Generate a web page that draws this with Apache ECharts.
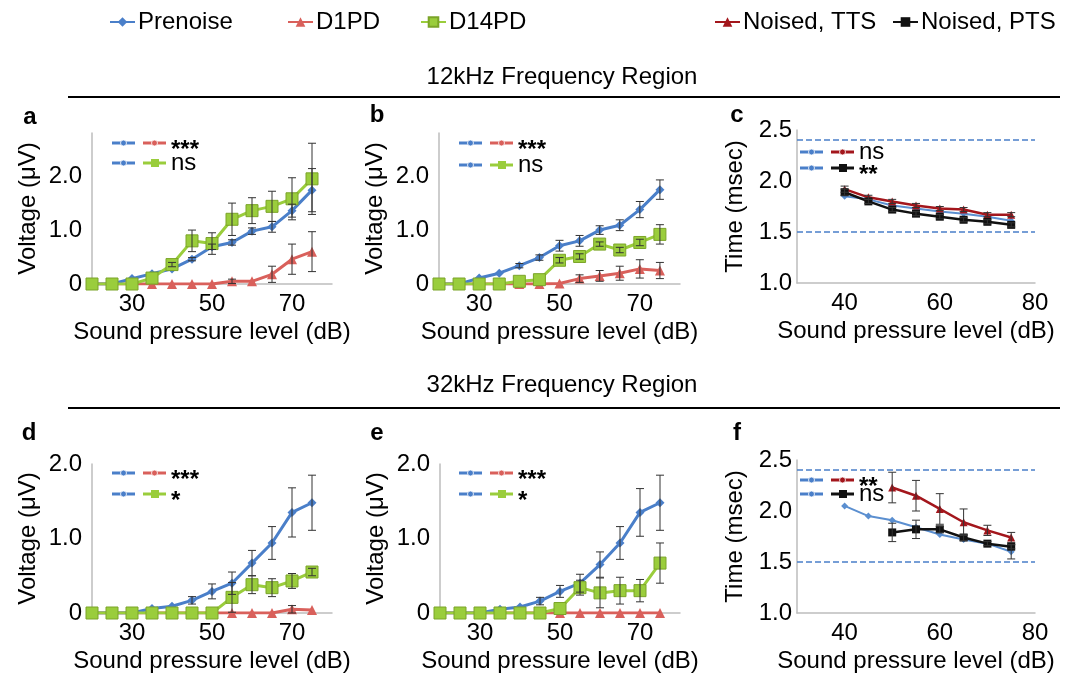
<!DOCTYPE html>
<html>
<head>
<meta charset="utf-8">
<script src="https://cdn.jsdelivr.net/npm/echarts@6/dist/echarts.min.js"></script>
<style>
  html, body { margin: 0; padding: 0; background: #fff; }
  #main { width: 1073px; height: 678px; }
</style>
</head>
<body>
<div id="main"></div>
<script>
// sound pressure levels (dB)
var spl = [20, 25, 30, 35, 40, 45, 50, 55, 60, 65, 70, 75];
var splLat = [40, 45, 50, 55, 60, 65, 70, 75];

// a: 12kHz amplitude, Prenoise vs D1PD
var aPre = [0, 0, 0.1, 0.19, 0.28, 0.46, 0.69, 0.77, 0.98, 1.06, 1.36, 1.74];
var aPreErr = [0, 0, 0, 0, 0, 0.03, 0.05, 0.05, 0.06, 0.1, 0.12, 0.4];
var aD1 = [0, 0, 0, 0, 0, 0, 0, 0.05, 0.05, 0.18, 0.46, 0.6];
var aD1Err = [0, 0, 0, 0, 0, 0, 0, 0.04, 0, 0.15, 0.28, 0.37];
var aD14 = [0, 0, 0, 0.11, 0.36, 0.8, 0.75, 1.2, 1.36, 1.44, 1.58, 1.95];
var aD14Err = [0, 0, 0, 0, 0.04, 0.2, 0.2, 0.3, 0.24, 0.28, 0.39, 0.66];

// b
var bPre = [0, 0, 0.11, 0.2, 0.34, 0.49, 0.71, 0.8, 1.0, 1.09, 1.38, 1.75];
var bPreErr = [0, 0, 0, 0, 0.04, 0.05, 0.1, 0.1, 0.08, 0.1, 0.15, 0.18];
var bD1 = [0, 0, 0, 0, 0, 0, 0.01, 0.1, 0.15, 0.2, 0.28, 0.25];
var bD1Err = [0, 0, 0, 0, 0, 0, 0, 0.07, 0.1, 0.13, 0.17, 0.15];
var bD14 = [0, 0, 0, 0, 0.05, 0.08, 0.44, 0.51, 0.74, 0.63, 0.77, 0.92];
var bD14Err = [0, 0, 0, 0, 0, 0, 0.05, 0.05, 0.04, 0.05, 0.06, 0.18];

// c: 12kHz latency
var cPre = [1.85, 1.82, 1.76, 1.73, 1.7, 1.68, 1.65, 1.61];
var cTTS = [1.92, 1.84, 1.8, 1.76, 1.73, 1.72, 1.67, 1.67];
var cTTSErr = [0.03, 0.02, 0.02, 0.02, 0.02, 0.02, 0.02, 0.02];
var cPTS = [1.89, 1.8, 1.72, 1.68, 1.65, 1.62, 1.6, 1.57];
var cPTSErr = [0.03, 0.02, 0.02, 0.02, 0.02, 0.02, 0.02, 0.02];

// d: 32kHz amplitude
var dPre = [0, 0, 0, 0.06, 0.09, 0.17, 0.29, 0.4, 0.67, 0.94, 1.35, 1.48];
var dPreErr = [0, 0, 0, 0, 0, 0.05, 0.1, 0.15, 0.17, 0.22, 0.33, 0.37];
var dD1 = [0, 0, 0, 0, 0, 0, 0, 0, 0, 0, 0.05, 0.04];
var dD1Err = [0, 0, 0, 0, 0, 0, 0, 0, 0, 0, 0.05, 0];
var dD14 = [0, 0, 0, 0, 0, 0, 0, 0.21, 0.38, 0.34, 0.43, 0.55];
var dD14Err = [0, 0, 0, 0, 0, 0, 0, 0.2, 0.12, 0.12, 0.1, 0.05];

// e
var ePre = [0, 0, 0, 0.05, 0.08, 0.16, 0.29, 0.4, 0.65, 0.94, 1.35, 1.48];
var ePreErr = [0, 0, 0, 0, 0, 0.05, 0.08, 0.12, 0.17, 0.22, 0.32, 0.37];
var eD1 = [0, 0, 0, 0, 0, 0, 0, 0, 0, 0, 0, 0];
var eD14 = [0, 0, 0, 0, 0, 0, 0.06, 0.34, 0.27, 0.3, 0.3, 0.67];
var eD14Err = [0, 0, 0, 0, 0, 0, 0, 0.1, 0.2, 0.18, 0.15, 0.27];

// f: 32kHz latency
var fPre = [2.05, 1.95, 1.91, 1.84, 1.77, 1.72, 1.68, 1.6];
var fPreErr = [0, 0, 0, 0, 0, 0, 0, 0.07];
var fTTS = [null, null, 2.23, 2.15, 2.02, 1.89, 1.81, 1.74];
var fTTSErr = [0, 0, 0.15, 0.15, 0.15, 0.13, 0.05, 0.05];
var fPTS = [null, null, 1.79, 1.82, 1.82, 1.74, 1.68, 1.65];
var fPTSErr = [0, 0, 0.09, 0.09, 0.03, 0.03, 0.02, 0.02];

// dashed reference lines on latency panels
var refLines = [1.5, 2.4];

var FONT = 'Liberation Sans, Arial, Helvetica, sans-serif';
var BLUE = '#4A7FC9', RED = '#D9605B', GREEN = '#9ACD3C', DKRED = '#A3161C', BLK = '#111111';

// grid boxes: a b c d e f
var grids = [
  {left: 92, top: 133, width: 240, height: 151},
  {left: 439, top: 133, width: 241, height: 151},
  {left: 797, top: 130, width: 238, height: 153},
  {left: 92, top: 464, width: 240, height: 149},
  {left: 440, top: 464, width: 240, height: 149},
  {left: 797, top: 460, width: 238, height: 153}
];

var axisLineStyle = {lineStyle: {color: '#bdbdbd', width: 1.5}};

function xAxisFor(i, lat) {
  var show = lat ? [40, 60, 80] : [30, 50, 70];
  return {
    type: 'value', gridIndex: i, min: lat ? 30 : 20, max: 80, interval: 10,
    axisLine: axisLineStyle, axisTick: {show: false}, splitLine: {show: false},
    axisLabel: {
      margin: 8, fontSize: 24, color: '#000', fontFamily: FONT,
      formatter: function (v) { return show.indexOf(v) >= 0 ? String(v) : ''; }
    },
    name: 'Sound pressure level (dB)', nameLocation: 'middle', nameGap: 36,
    nameTextStyle: {fontSize: 24, color: '#000', fontFamily: FONT}
  };
}

function yAxisFor(i, min, max, interval, name, gap, margin) {
  return {
    type: 'value', gridIndex: i, min: min, max: max, interval: interval,
    axisLine: {show: true, lineStyle: {color: '#bdbdbd', width: 1.5}},
    axisTick: {show: false}, splitLine: {show: false},
    axisLabel: {
      margin: margin, fontSize: 24, color: '#000', fontFamily: FONT,
      formatter: function (v) {
        if (min === 0) {
          if (v === 0) return '0';
          return Math.abs(v - Math.round(v)) < 1e-9 ? v.toFixed(1) : '';
        }
        return v.toFixed(1);
      }
    },
    name: name, nameLocation: 'middle', nameGap: gap,
    nameTextStyle: {fontSize: 24, color: '#000', fontFamily: FONT}
  };
}

function pairs(xs, ys) {
  var out = [];
  for (var i = 0; i < xs.length; i++) if (ys[i] != null) out.push([xs[i], ys[i]]);
  return out;
}

function line(name, xs, ys, gi, color, symbol, size, width, extra) {
  var s = {
    name: name, type: 'line', xAxisIndex: gi, yAxisIndex: gi,
    data: pairs(xs, ys), symbol: symbol, symbolSize: size,
    lineStyle: {color: color, width: width},
    itemStyle: {color: color},
    z: 2
  };
  if (extra) for (var k in extra) s[k] = extra[k];
  return s;
}

function errRender(params, api) {
  var x = api.value(0), y = api.value(1), e = api.value(2);
  var hi = api.coord([x, y + e]), lo = api.coord([x, y - e]);
  var w = 4;
  var st = {stroke: '#333', lineWidth: 1};
  return {type: 'group', children: [
    {type: 'line', shape: {x1: hi[0], y1: hi[1], x2: lo[0], y2: lo[1]}, style: st},
    {type: 'line', shape: {x1: hi[0] - w, y1: hi[1], x2: hi[0] + w, y2: hi[1]}, style: st},
    {type: 'line', shape: {x1: lo[0] - w, y1: lo[1], x2: lo[0] + w, y2: lo[1]}, style: st}
  ]};
}

function err(xs, ys, es, gi) {
  var d = [];
  for (var i = 0; i < xs.length; i++) if (ys[i] != null && es[i] > 0) d.push([xs[i], ys[i], es[i]]);
  return {type: 'custom', xAxisIndex: gi, yAxisIndex: gi, data: d, renderItem: errRender,
          encode: {x: 0, y: 1}, silent: true, z: 4};
}

var d14Item = {color: GREEN, borderColor: '#7BA428', borderWidth: 1};
var refMark = {
  silent: true, symbol: 'none', label: {show: false},
  lineStyle: {color: '#4A7FC9', type: 'dashed', width: 1.5},
  data: refLines.map(function (v) { return {yAxis: v}; })
};

var series = [];
// a
series.push(line('D1PD', spl, aD1, 0, RED, 'triangle', 10, 3));
series.push(line('Prenoise', spl, aPre, 0, BLUE, 'diamond', 9, 3));
series.push(line('D14PD', spl, aD14, 0, GREEN, 'rect', 12, 3, {itemStyle: d14Item}));
series.push(err(spl, aPre, aPreErr, 0), err(spl, aD1, aD1Err, 0), err(spl, aD14, aD14Err, 0));
// b
series.push(line('D1PD', spl, bD1, 1, RED, 'triangle', 10, 3));
series.push(line('Prenoise', spl, bPre, 1, BLUE, 'diamond', 9, 3));
series.push(line('D14PD', spl, bD14, 1, GREEN, 'rect', 12, 3, {itemStyle: d14Item}));
series.push(err(spl, bPre, bPreErr, 1), err(spl, bD1, bD1Err, 1), err(spl, bD14, bD14Err, 1));
// c
series.push(line('Prenoise', splLat, cPre, 2, '#5B8FD0', 'diamond', 7, 2, {markLine: refMark}));
series.push(line('Noised, TTS', splLat, cTTS, 2, DKRED, 'triangle', 8, 2.5));
series.push(line('Noised, PTS', splLat, cPTS, 2, BLK, 'rect', 8, 2.5));
series.push(err(splLat, cTTS, cTTSErr, 2), err(splLat, cPTS, cPTSErr, 2));
// d
series.push(line('D1PD', spl, dD1, 3, RED, 'triangle', 10, 3));
series.push(line('Prenoise', spl, dPre, 3, BLUE, 'diamond', 9, 3));
series.push(line('D14PD', spl, dD14, 3, GREEN, 'rect', 12, 3, {itemStyle: d14Item}));
series.push(err(spl, dPre, dPreErr, 3), err(spl, dD1, dD1Err, 3), err(spl, dD14, dD14Err, 3));
// e
series.push(line('D1PD', spl, eD1, 4, RED, 'triangle', 10, 3));
series.push(line('Prenoise', spl, ePre, 4, BLUE, 'diamond', 9, 3));
series.push(line('D14PD', spl, eD14, 4, GREEN, 'rect', 12, 3, {itemStyle: d14Item}));
series.push(err(spl, ePre, ePreErr, 4), err(spl, eD14, eD14Err, 4));
// f
series.push(line('Prenoise', splLat, fPre, 5, '#5B8FD0', 'diamond', 7, 2, {markLine: refMark}));
series.push(line('Noised, TTS', splLat, fTTS, 5, DKRED, 'triangle', 8, 2.5));
series.push(line('Noised, PTS', splLat, fPTS, 5, BLK, 'rect', 8, 2.5));
series.push(err(splLat, fPre, fPreErr, 5), err(splLat, fTTS, fTTSErr, 5), err(splLat, fPTS, fPTSErr, 5));

// top legends
var legendPos = [['Prenoise', 104], ['D1PD', 282], ['D14PD', 415], ['Noised, TTS', 709], ['Noised, PTS', 887]];
var legends = legendPos.map(function (p) {
  return {
    data: [p[0]], left: p[1], top: 5, itemWidth: 25, itemHeight: 12, itemGap: 0,
    selectedMode: false,
    textStyle: {fontSize: 24, color: '#000', fontFamily: FONT, padding: [0, 0, 0, -2]}
  };
});

// small in-panel keys
function keyRow(x, y, c2, sym2, txt, bold) {
  var els = [];
  function seg(x0, c, sym) {
    els.push({type: 'line', shape: {x1: x0, y1: y, x2: x0 + 23, y2: y}, style: {stroke: c, lineWidth: 3}});
    if (sym === 'rect') {
      els.push({type: 'rect', shape: {x: x0 + 8, y: y - 4, width: 8, height: 8}, style: {fill: c}});
    } else {
      els.push({type: 'circle', shape: {cx: x0 + 11.5, cy: y, r: 3}, style: {fill: c, stroke: '#fff', lineWidth: 0.8}});
    }
  }
  seg(x, BLUE, 'circle');
  seg(x + 31, c2, sym2);
  els.push({type: 'text', x: x + 59, y: bold ? y + 7 : y,
    style: {text: txt, fontSize: 24, fontWeight: bold ? 'bold' : 'normal', fontFamily: FONT,
            fill: '#000', verticalAlign: 'middle', align: 'left'}});
  return els;
}

var graphics = [];
function addAll(arr) { for (var i = 0; i < arr.length; i++) graphics.push(arr[i]); }
addAll(keyRow(112, 143, RED, 'circle', '***', true));
addAll(keyRow(112, 163, GREEN, 'rect', 'ns', false));
addAll(keyRow(459, 143, RED, 'circle', '***', true));
addAll(keyRow(459, 165, GREEN, 'rect', 'ns', false));
addAll(keyRow(800, 152, DKRED, 'circle', 'ns', false));
addAll(keyRow(800, 168, BLK, 'rect', '**', true));
addAll(keyRow(112, 473, RED, 'circle', '***', true));
addAll(keyRow(112, 494, GREEN, 'rect', '*', true));
addAll(keyRow(459, 473, RED, 'circle', '***', true));
addAll(keyRow(459, 494, GREEN, 'rect', '*', true));
addAll(keyRow(800, 480, DKRED, 'circle', '**', true));
addAll(keyRow(800, 494, BLK, 'rect', 'ns', false));

// section titles and rules
[['12kHz Frequency Region', 77, 97], ['32kHz Frequency Region', 385, 408]].forEach(function (t) {
  graphics.push({type: 'text', x: 562, y: t[1],
    style: {text: t[0], fontSize: 24, fontFamily: FONT, fill: '#000', align: 'center', verticalAlign: 'middle'}});
  graphics.push({type: 'line', shape: {x1: 68, y1: t[2], x2: 1060, y2: t[2]}, style: {stroke: '#000', lineWidth: 2}});
});

// panel letters
[['a', 30, 117], ['b', 377, 115], ['c', 737, 115], ['d', 29, 433], ['e', 377, 433], ['f', 737, 433]].forEach(function (l) {
  graphics.push({type: 'text', x: l[1], y: l[2],
    style: {text: l[0], fontSize: 24, fontWeight: 'bold', fontFamily: FONT, fill: '#000', align: 'center', verticalAlign: 'middle'}});
});

var option = {
  animation: false,
  backgroundColor: '#fff',
  textStyle: {fontFamily: FONT},
  legend: legends,
  grid: grids,
  xAxis: [xAxisFor(0, false), xAxisFor(1, false), xAxisFor(2, true),
          xAxisFor(3, false), xAxisFor(4, false), xAxisFor(5, true)],
  yAxis: [
    yAxisFor(0, 0, 2.8, 1, 'Voltage (\u03bcV)', 52, 10),
    yAxisFor(1, 0, 2.8, 1, 'Voltage (\u03bcV)', 52, 10),
    yAxisFor(2, 1.0, 2.5, 0.5, 'Time (msec)', 50, 5),
    yAxisFor(3, 0, 2.0, 1, 'Voltage (\u03bcV)', 52, 10),
    yAxisFor(4, 0, 2.0, 1, 'Voltage (\u03bcV)', 52, 10),
    yAxisFor(5, 1.0, 2.5, 0.5, 'Time (msec)', 50, 5)
  ],
  series: series,
  graphic: graphics
};

var myChart = echarts.init(document.getElementById('main'));
myChart.setOption(option);
window.addEventListener('resize', function () { myChart.resize(); });
</script>
</body>
</html>
